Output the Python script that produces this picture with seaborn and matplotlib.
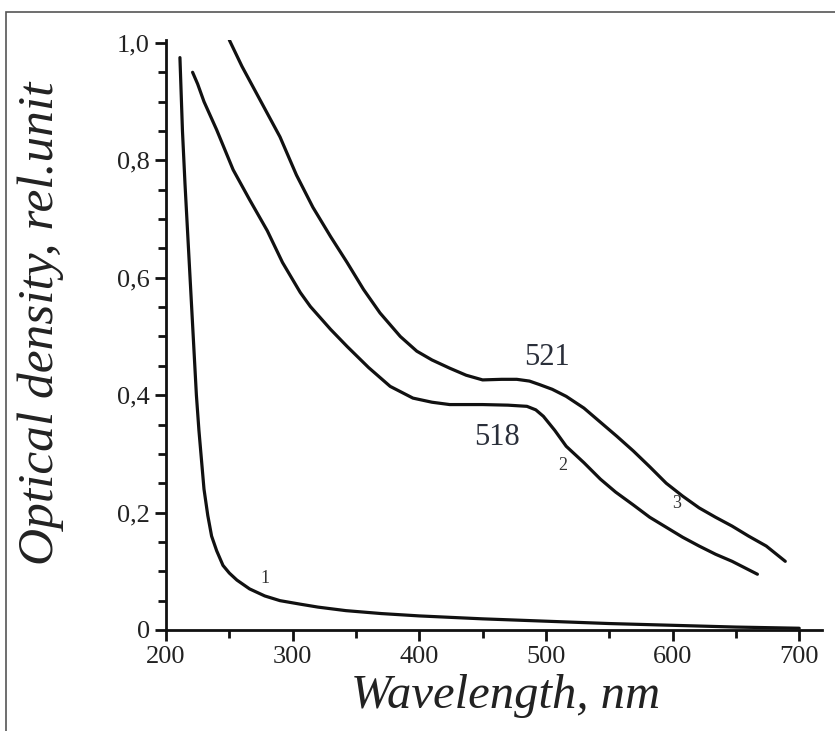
import matplotlib
matplotlib.use("Agg")
import matplotlib.pyplot as plt
import seaborn as sns
import pandas as pd
from matplotlib.patches import Rectangle
from matplotlib.ticker import MultipleLocator, FuncFormatter

# curve 1
wl1 = [211, 213, 215, 217, 219, 221, 223, 224, 226, 228, 230, 233, 236, 240, 245,
       250, 256, 266, 278, 290, 306, 320, 342, 370, 400, 450, 500, 550, 600, 650, 700]
od1 = [0.975, 0.85, 0.76, 0.68, 0.60, 0.52, 0.44, 0.40, 0.34, 0.29, 0.24, 0.195, 0.16, 0.135, 0.11,
       0.097, 0.085, 0.070, 0.058, 0.050, 0.044, 0.039, 0.033, 0.028, 0.024, 0.019, 0.015, 0.011, 0.008, 0.005, 0.003]

# curve 2
wl2 = [221, 225, 230, 240, 253, 266, 280, 292, 306, 314, 330, 343, 360, 377, 395, 410, 424,
       450, 470, 485, 492, 498, 507, 516, 530, 543, 555, 569, 582, 595, 608, 621, 634, 647, 657, 667]
od2 = [0.95, 0.93, 0.90, 0.852, 0.784, 0.733, 0.68, 0.626, 0.575, 0.551, 0.512, 0.483, 0.447, 0.415, 0.395, 0.388, 0.384,
       0.384, 0.383, 0.381, 0.375, 0.364, 0.340, 0.313, 0.285, 0.257, 0.235, 0.213, 0.192, 0.175, 0.158, 0.143, 0.129, 0.117, 0.106, 0.095]

# curve 3
wl3 = [250, 260, 275, 290, 303, 316, 330, 343, 356, 369, 385, 398, 410, 424, 437, 450, 465, 477,
       487, 495, 505, 516, 530, 543, 556, 569, 582, 595, 608, 621, 634, 647, 660, 674, 689]
od3 = [1.005, 0.96, 0.90, 0.84, 0.775, 0.72, 0.67, 0.626, 0.58, 0.54, 0.50, 0.475, 0.46, 0.446, 0.434, 0.426, 0.427, 0.427,
       0.424, 0.418, 0.41, 0.398, 0.378, 0.354, 0.33, 0.305, 0.278, 0.25, 0.228, 0.208, 0.192, 0.177, 0.16, 0.143, 0.117]

sns.set_style("ticks")
plt.rcParams['font.family'] = ['Liberation Serif', 'DejaVu Serif']

fig = plt.figure(figsize=(8.35, 7.31), dpi=100)
ax = fig.add_axes([166 / 835, 101 / 731, 656 / 835, 590 / 731])

for wl, od in [(wl1, od1), (wl2, od2), (wl3, od3)]:
    df = pd.DataFrame({"wl": wl, "od": od})
    sns.lineplot(data=df, x="wl", y="od", ax=ax, color="#111111", linewidth=2.3, sort=False)

ax.set_xlim(200, 718)
ax.set_ylim(0, 1.005)
sns.despine(ax=ax)
for s in ["left", "bottom"]:
    ax.spines[s].set_linewidth(2.0)
    ax.spines[s].set_color("#111111")

ax.xaxis.set_major_locator(MultipleLocator(100))
ax.xaxis.set_minor_locator(MultipleLocator(50))
ax.yaxis.set_major_locator(MultipleLocator(0.2))
ax.yaxis.set_minor_locator(MultipleLocator(0.05))
ax.yaxis.set_major_formatter(FuncFormatter(lambda v, p: "0" if abs(v) < 1e-9 else f"{v:.1f}".replace(".", ",")))
ax.tick_params(which="major", direction="out", length=8, width=2, color="#111111",
               labelsize=19, labelcolor="#222222")
ax.tick_params(which="minor", direction="out", length=6, width=2, color="#111111")

ax.set_xlabel("Wavelength, nm", fontsize=35, fontstyle="italic", color="#222222")
ax.set_ylabel("Optical density, rel.unit", fontsize=37, fontstyle="italic", color="#222222")
ax.xaxis.set_label_coords(0.517, -0.075)
ax.yaxis.set_label_coords(-0.156, 0.52)

ax.text(501, 0.464, "521", fontsize=22, color="#2a2f3a", ha="center", va="center")
ax.text(461, 0.328, "518", fontsize=22, color="#2a2f3a", ha="center", va="center")
ax.text(278, 0.088, "1", fontsize=13, color="#333333", ha="center", va="center")
ax.text(513, 0.281, "2", fontsize=13, color="#333333", ha="center", va="center")
ax.text(603, 0.216, "3", fontsize=13, color="#333333", ha="center", va="center")

fig.add_artist(Rectangle((6 / 835, -0.1), 1.2, 1 - 12 / 731 + 0.1, transform=fig.transFigure,
                         fill=False, edgecolor="#555555", linewidth=1.2))

fig.savefig("out.png", dpi=100)
